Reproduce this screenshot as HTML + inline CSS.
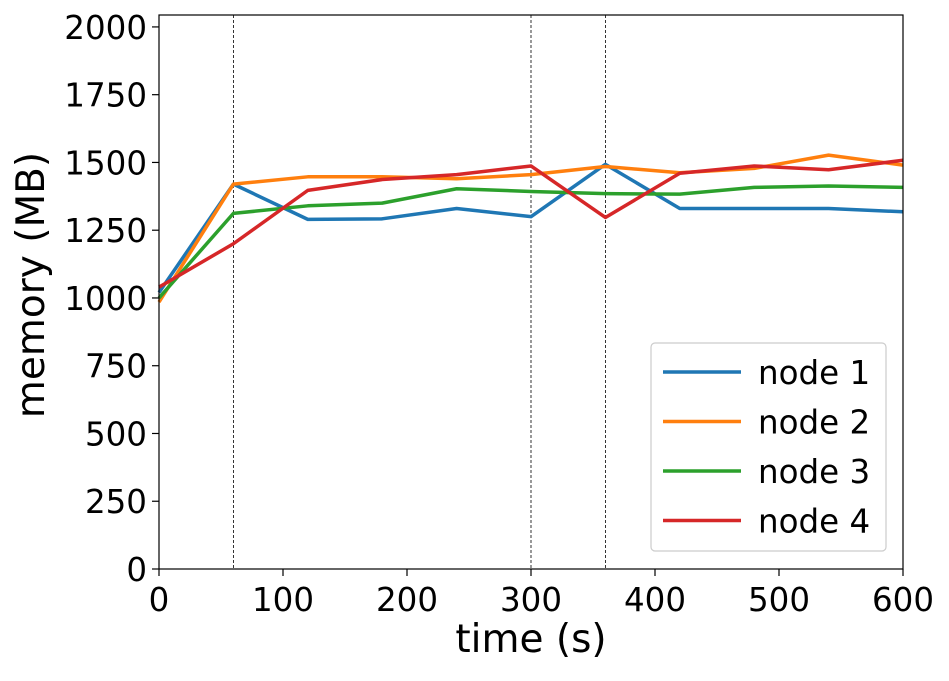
<!DOCTYPE html>
<html><head><meta charset="utf-8"><style>
body{margin:0;background:#fff;}
svg text{font-family:"DejaVu Sans","Liberation Sans",sans-serif;fill:#000;}
</style></head><body>
<svg id="chart" width="949" height="676" xmlns="http://www.w3.org/2000/svg"></svg>
<script>
const times=[0,60,120,180,240,300,360,420,480,540,600];
const node1=[1020,1420,1290,1292,1330,1300,1493,1330,1330,1330,1318];
const node2=[985,1420,1447,1447,1440,1455,1485,1462,1478,1527,1490];
const node3=[1000,1312,1340,1350,1403,1393,1385,1383,1408,1413,1408];
const node4=[1040,1200,1397,1437,1455,1487,1297,1460,1487,1473,1508];
const seriesNames=["node 1","node 2","node 3","node 4"];
const xTicks=[0,100,200,300,400,500,600];
const yTicks=[0,250,500,750,1000,1250,1500,1750,2000];
const markers=[60,300,360];
const colors=["#1f77b4","#ff7f0e","#2ca02c","#d62728"];
const L=159,R=903,T=15,B=569,XMAX=600,YMAX=2044;
const X=v=>L+v/XMAX*(R-L), Y=v=>B-v/YMAX*(B-T);
const svg=document.getElementById('chart');
const NS="http://www.w3.org/2000/svg";
function mk(tag,at,parent){const e=document.createElementNS(NS,tag);for(const k in at)e.setAttribute(k,at[k]);(parent||svg).appendChild(e);return e;}
markers.forEach(m=>{
 const l=mk('line',{x1:X(m),x2:X(m),y1:T,y2:B,stroke:'#000','stroke-width':0.8,'stroke-dasharray':'3,2'});
 
 
});
[node1,node2,node3,node4].forEach((s,i)=>{
 const p=mk('polyline',{points:s.map((v,j)=>X(times[j])+','+Y(v)).join(' '),fill:'none',stroke:colors[i],'stroke-width':3.5,'stroke-linejoin':'round'});
 
 
});
const frame=mk('rect',{x:L,y:T,width:R-L,height:B-T,fill:'none',stroke:'#000','stroke-width':1.2});


xTicks.forEach(t=>{
 mk('line',{x1:X(t),x2:X(t),y1:B,y2:B+7,stroke:'#000','stroke-width':1.2});
 const tx=mk('text',{x:X(t),y:B+42,'text-anchor':'middle','font-size':32.5});tx.textContent=t;
 
 
});
yTicks.forEach(t=>{
 mk('line',{x1:L-7,x2:L,y1:Y(t),y2:Y(t),stroke:'#000','stroke-width':1.2});
 const tx=mk('text',{x:L-12,y:Y(t)+12,'text-anchor':'end','font-size':32.5});tx.textContent=t;
 
 
});
const xt=mk('text',{x:(L+R)/2,y:652,'text-anchor':'middle','font-size':39});xt.textContent='time (s)';


const yt=mk('text',{x:0,y:0,'text-anchor':'middle','font-size':39,transform:'translate(44,285) rotate(-90)'});yt.textContent='memory (MB)';


const lg=mk('g',{});


mk('rect',{x:651,y:343,width:235,height:208,rx:4,fill:'#fff',stroke:'#ccc','stroke-width':1.2},lg);
seriesNames.forEach((n,i)=>{
 const y=372+i*49.5;
 const ln=mk('line',{x1:663,x2:741,y1:y,y2:y,stroke:colors[i],'stroke-width':3.5},lg);
 
 
 const tx=mk('text',{x:758,y:y+12,'font-size':32.5},lg);tx.textContent=n;
 
 
});
</script>
</body></html>
